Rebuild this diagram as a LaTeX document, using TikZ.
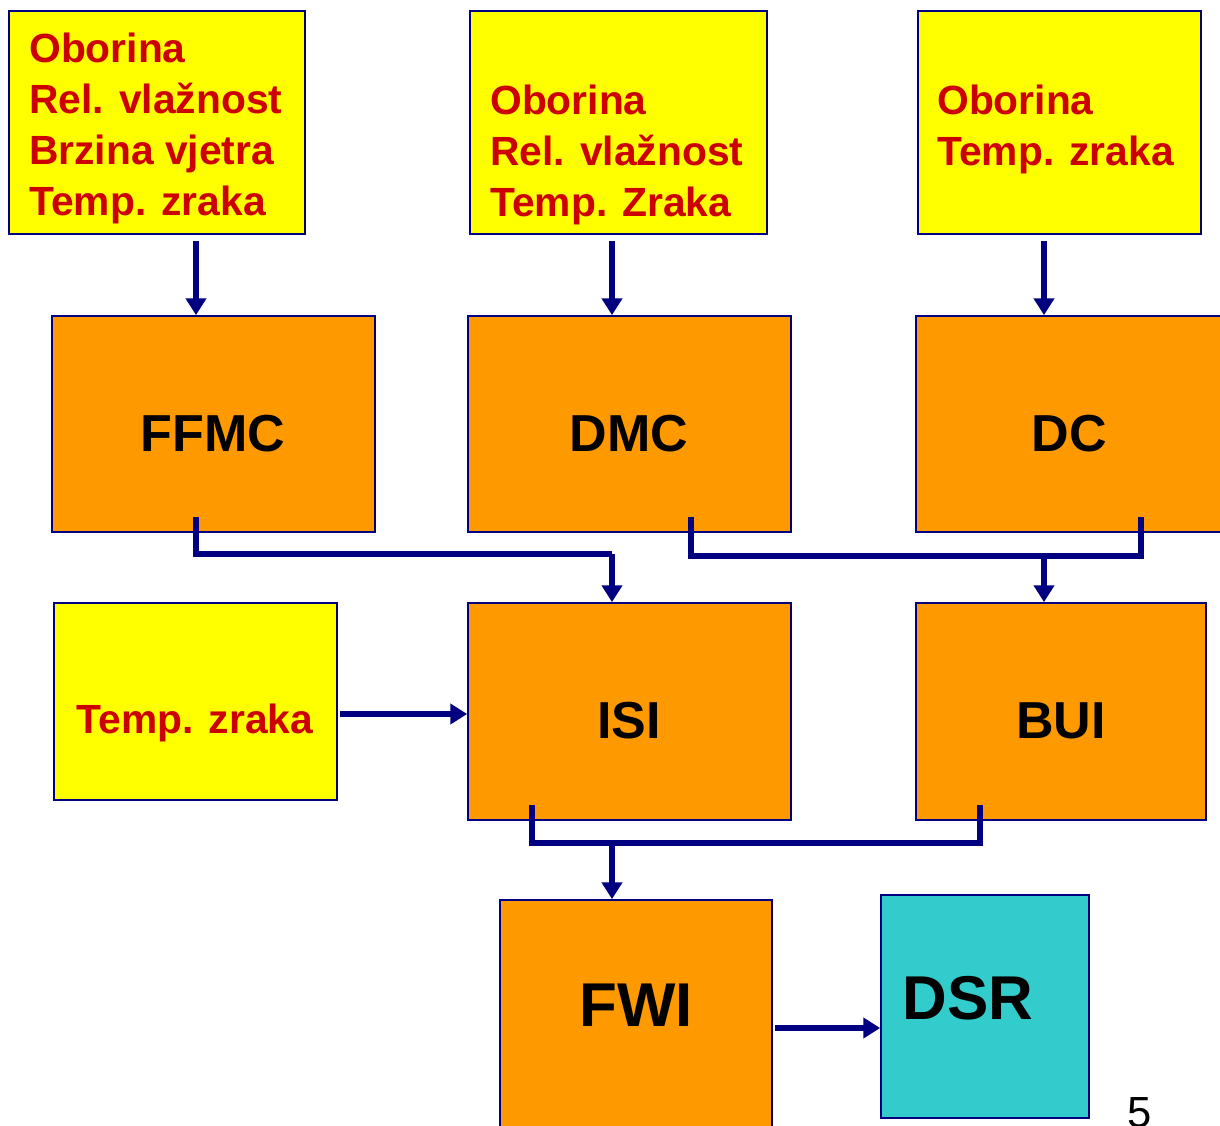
\documentclass[tikz,border=0pt]{standalone}
\usepackage{fontspec}
\setmainfont{Liberation Sans}
\usetikzlibrary{arrows.meta}
\definecolor{navy}{HTML}{000080}
\definecolor{boxyellow}{HTML}{FFFF00}
\definecolor{boxorange}{HTML}{FF9900}
\definecolor{boxcyan}{HTML}{33CCCC}
\definecolor{txtred}{HTML}{CC0000}
\tikzset{
  box/.style={draw=navy,line width=1.2pt,inner sep=0pt},
  inbox/.style={box,fill=boxyellow},
  idxbox/.style={box,fill=boxorange},
  outbox/.style={box,fill=boxcyan},
  intext/.style={font=\bfseries\fontsize{29}{36.3}\selectfont,text=txtred,align=left,inner sep=0pt},
  idxtext/.style={font=\bfseries\fontsize{37}{44}\selectfont,inner sep=0pt,anchor=base},
  bigtext/.style={font=\bfseries\fontsize{44}{52}\selectfont,inner sep=0pt,anchor=base},
  link/.style={navy,line width=3.9pt},
  arr/.style={link,->}
}
\begin{document}
\begin{tikzpicture}[x=0.025cm,y=-0.025cm,>={Triangle[length=0.42cm,width=0.5cm]}]
  \useasboundingbox (0,0) rectangle (1220,1125);

  % input boxes
  \node[inbox,minimum width=7.4cm,minimum height=5.575cm] (y1) at (157,122.5) {};
  \node[inbox,minimum width=7.425cm,minimum height=5.575cm] (y2) at (618.5,122.5) {};
  \node[inbox,minimum width=7.075cm,minimum height=5.575cm] (y3) at (1059.5,122.5) {};
  \node[inbox,minimum width=7.075cm,minimum height=4.925cm] (tz) at (195.5,701.5) {};
  \node[intext,anchor=north west] (y1t) at (29,33) {Oborina\\Rel. vlažnost\\Brzina vjetra\\Temp. zraka};
  \node[intext,anchor=north west] (y2t) at (490,85) {Oborina\\Rel. vlažnost\\Temp. Zraka};
  \node[intext,anchor=north west] (y3t) at (937,85) {Oborina\\Temp. zraka};
  \node[intext,anchor=base] (tzt) at (195,733) {Temp. zraka};

  % codes and indices
  \node[idxbox,minimum width=8.075cm,minimum height=5.4cm] (ffmc) at (213.5,424) {};
  \node[idxbox,minimum width=8.075cm,minimum height=5.4cm] (dmc) at (629.5,424) {};
  \node[idxbox,minimum width=7.65cm,minimum height=5.4cm] (dc) at (1069,424) {};
  \node[idxbox,minimum width=8.075cm,minimum height=5.425cm] (isi) at (629.5,711.5) {};
  \node[idxbox,minimum width=7.25cm,minimum height=5.425cm] (bui) at (1061,711.5) {};
  \node[idxbox,minimum width=6.8cm,minimum height=5.75cm] (fwi) at (636,1015) {};
  \node[outbox,minimum width=5.2cm,minimum height=5.575cm] (dsr) at (985,1006.5) {};
  \node[idxtext] (ffmct) at (213,451) {FFMC};
  \node[idxtext] (dmct) at (629,451) {DMC};
  \node[idxtext] (dct) at (1069,451) {DC};
  \node[idxtext] (isit) at (629,738) {ISI};
  \node[idxtext] (buit) at (1061,738) {BUI};
  \node[bigtext] (fwit) at (636,1026) {FWI};
  \node[bigtext] (dsrt) at (968,1019) {DSR};
  \node[font=\fontsize{31}{36}\selectfont,inner sep=0pt,anchor=north] (pg) at (1140,1097) {5};

  % connectors
  \coordinate (p1) at (196,241);
  \coordinate (p2) at (612,241);
  \coordinate (p3) at (1044,241);
  \draw[arr] (p1) -- (p1 |- ffmc.north);
  \draw[arr] (p2) -- (p2 |- dmc.north);
  \draw[arr] (p3) -- (p3 |- dc.north);

  \coordinate (p4) at (196,517);
  \coordinate (q1) at (612,554);
  \draw[link] (p4) |- (q1);
  \draw[arr] (q1) -- (q1 |- isi.north);

  \coordinate (p5) at (691,517);
  \coordinate (p6) at (1141,517);
  \coordinate (q2) at (1044,556);
  \draw[link] (p5) |- (p6 |- q2) -- (p6);
  \draw[arr] (q2) -- (q2 |- bui.north);

  \coordinate (p7) at (532,805);
  \coordinate (p8) at (980,805);
  \coordinate (q3) at (612,843);
  \draw[link] (p7) |- (p8 |- q3) -- (p8);
  \draw[arr] (q3) -- (q3 |- fwi.north);

  \coordinate (p9) at (340,714);
  \draw[arr] (p9) -- (p9 -| isi.west);
  \coordinate (p10) at (775,1028);
  \draw[arr] (p10) -- (p10 -| dsr.west);
\end{tikzpicture}
\end{document}
